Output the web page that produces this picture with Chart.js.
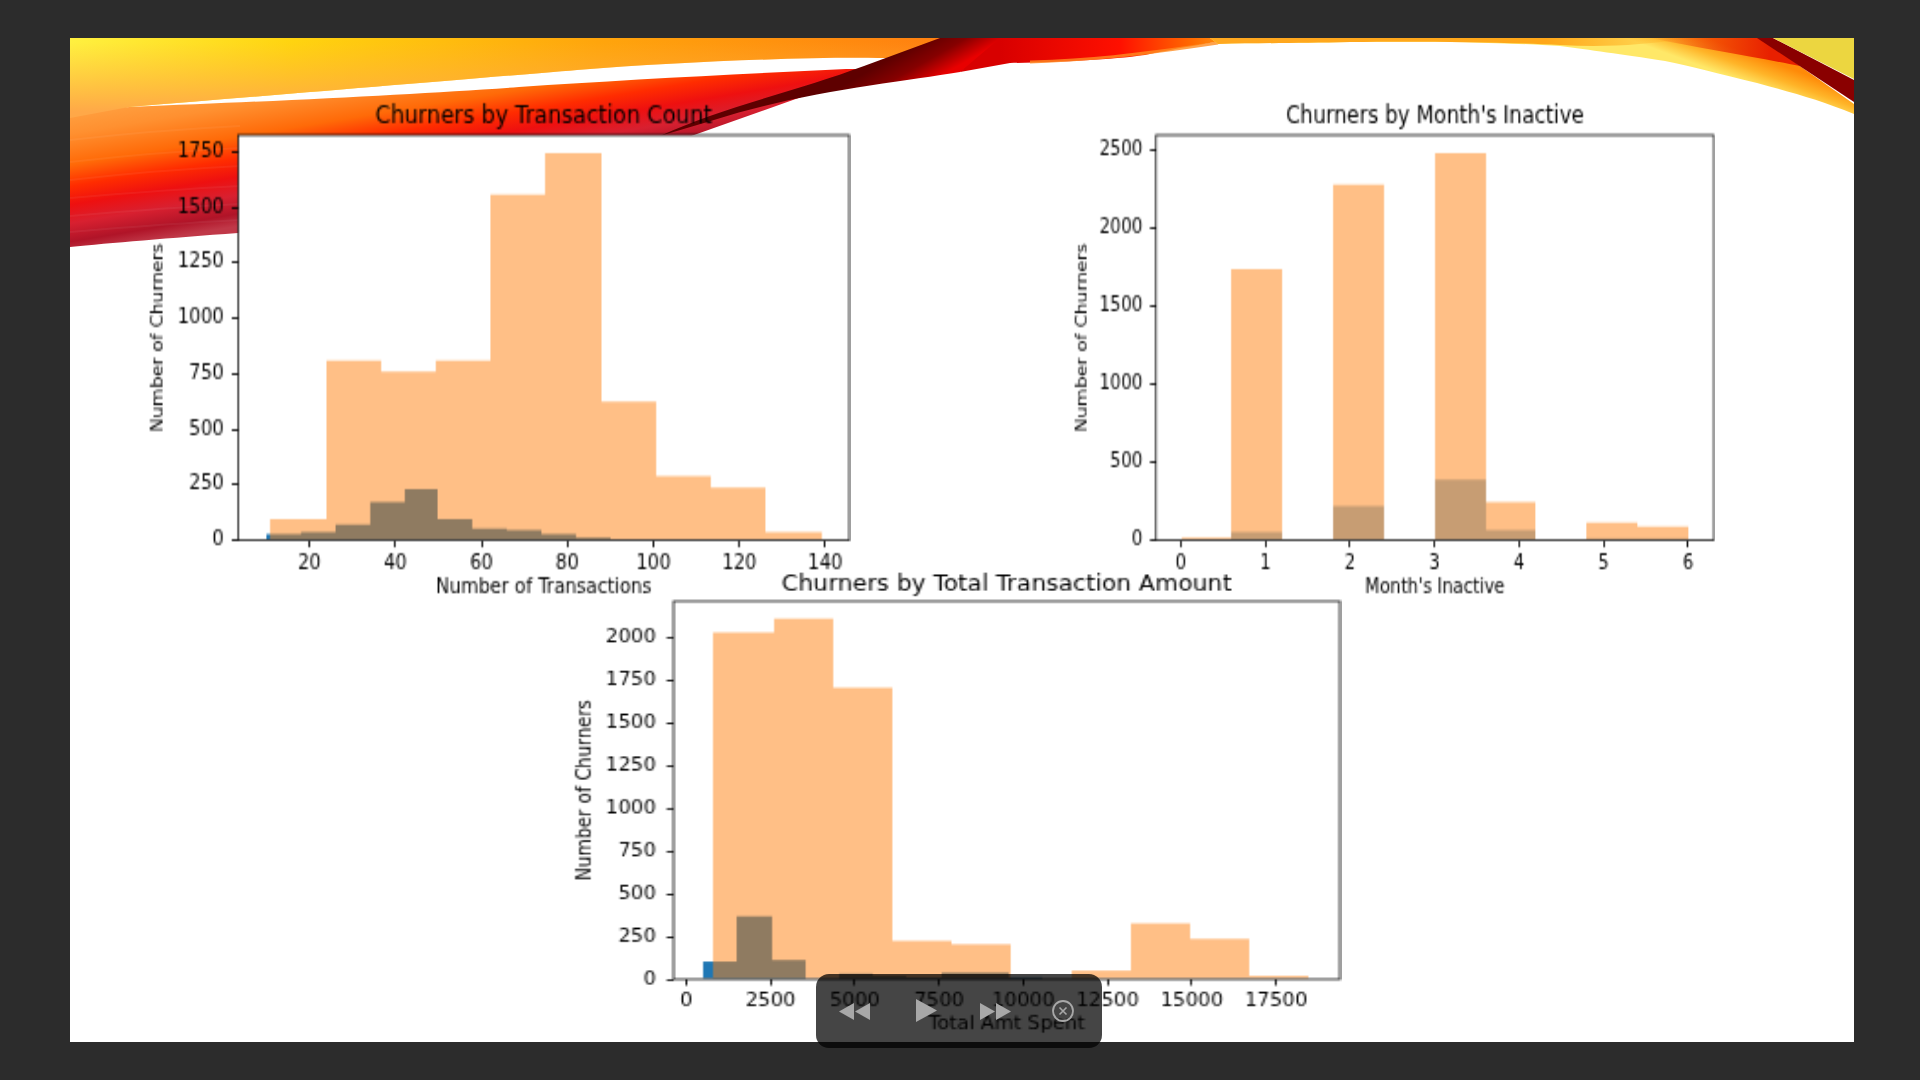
<!DOCTYPE html>
<html>
<head>
<meta charset="utf-8">
<title>Churners</title>
<script src="https://cdn.jsdelivr.net/npm/chart.js@4"></script>
<style>
  html, body { margin: 0; padding: 0; background: #2c2c2c; width: 1920px; height: 1080px; overflow: hidden; }
  #slide { position: absolute; left: 70px; top: 38px; width: 1784px; height: 1004px; background: #fff; }
  #banner { position: absolute; left: 0; top: 0; }
  .plot { position: absolute; transform-origin: 0 0; }
  .plot canvas { display: block; }
  #controls { position: absolute; left: 816px; top: 974px; width: 286px; height: 74px; border-radius: 13px; background: rgba(0, 0, 0, 0.73); }
  #controlIcons { position: absolute; left: 0; top: 0; }
</style>
</head>
<body>
<div id="slide"></div>
<svg id="banner" width="1920" height="1080" viewBox="0 0 1920 1080">
  <defs>
    <linearGradient id="topBand" x1="70" y1="0" x2="950" y2="0" gradientUnits="userSpaceOnUse">
      <stop offset="0" stop-color="#fff040"/>
      <stop offset="0.25" stop-color="#ffd410"/>
      <stop offset="0.6" stop-color="#ffa50c"/>
      <stop offset="1" stop-color="#ff7f10"/>
    </linearGradient>
    <linearGradient id="topShade" x1="0" y1="42" x2="0" y2="112" gradientUnits="userSpaceOnUse">
      <stop offset="0" stop-color="#ffb040" stop-opacity="0"/>
      <stop offset="1" stop-color="#ffa848" stop-opacity="1"/>
    </linearGradient>
    <linearGradient id="lowBand" x1="70" y1="100" x2="95" y2="250" gradientUnits="userSpaceOnUse">
      <stop offset="0" stop-color="#ffa848"/>
      <stop offset="0.22" stop-color="#ff9030"/>
      <stop offset="0.42" stop-color="#ff6a08"/>
      <stop offset="0.56" stop-color="#ff2c00"/>
      <stop offset="0.68" stop-color="#ee1010"/>
      <stop offset="0.8" stop-color="#d82030"/>
      <stop offset="0.92" stop-color="#b01428"/>
      <stop offset="1" stop-color="#c03848"/>
    </linearGradient>
    <linearGradient id="darkSwoosh" x1="905" y1="50" x2="925" y2="85" gradientUnits="userSpaceOnUse">
      <stop offset="0" stop-color="#5e0000"/>
      <stop offset="0.5" stop-color="#860000"/>
      <stop offset="1" stop-color="#e80000"/>
    </linearGradient>
    <linearGradient id="redTail" x1="1000" y1="0" x2="1240" y2="0" gradientUnits="userSpaceOnUse">
      <stop offset="0" stop-color="#d80000"/>
      <stop offset="0.5" stop-color="#ff1000"/>
      <stop offset="0.8" stop-color="#ff6a00"/>
      <stop offset="1" stop-color="#ffa818"/>
    </linearGradient>
    <linearGradient id="rightBand" x1="1700" y1="35" x2="1690" y2="62" gradientUnits="userSpaceOnUse">
      <stop offset="0" stop-color="#ff8a08"/>
      <stop offset="0.5" stop-color="#ffb428"/>
      <stop offset="1" stop-color="#ffe868"/>
    </linearGradient>
    <linearGradient id="rightLeft" x1="1210" y1="0" x2="1690" y2="0" gradientUnits="userSpaceOnUse">
      <stop offset="0" stop-color="#ffa820" stop-opacity="1"/>
      <stop offset="0.7" stop-color="#ffa010" stop-opacity="0.9"/>
      <stop offset="1" stop-color="#ff9a08" stop-opacity="0"/>
    </linearGradient>
    <linearGradient id="rightRed" x1="1650" y1="0" x2="1770" y2="0" gradientUnits="userSpaceOnUse">
      <stop offset="0" stop-color="#e82000" stop-opacity="0"/>
      <stop offset="1" stop-color="#e82000" stop-opacity="1"/>
    </linearGradient>
  </defs>
  <path d="M70 38 H960 V58 H878 C800 57 680 62 577 70 C480 78 300 93 129 107 L70 125 Z" fill="url(#topBand)"/>
  <path d="M70 38 H960 V58 H878 C800 57 680 62 577 70 C480 78 300 93 129 107 L70 125 Z" fill="url(#topShade)"/>
  <path d="M70 118 L129 107 C300 100 420 94 519 87 C620 80 740 74 846 69 L880 69 L680 140 L238 233 C170 238 110 243 70 247 Z" fill="url(#lowBand)"/>
  <g fill="none" stroke="#fff" stroke-opacity="0.05" stroke-width="2">
    <path d="M70 140 C140 132 200 128 240 126"/>
    <path d="M70 162 C140 154 200 150 240 148"/>
    <path d="M70 180 C140 172 200 168 240 166"/>
    <path d="M70 198 C140 192 200 188 240 186"/>
    <path d="M70 216 C140 210 200 206 240 204"/>
    <path d="M70 232 C140 226 200 222 240 220"/>
  </g>
  <path d="M660 136 C720 108 800 90 864 66 L940 38 H1015 L1000 48 L960 72 C900 82 800 92 714 120 Z" fill="url(#darkSwoosh)"/>
  <path d="M1000 38 H1240 C1215 42 1190 46 1145 55 C1110 60 1060 62 1010 63 L960 72 Z" fill="url(#redTail)"/>
  <path d="M1030 62 C1090 60 1130 56 1218 43" fill="none" stroke="#ff8c20" stroke-width="3" stroke-opacity="0.8"/>
  <path d="M1210 38 H1760 L1854 104 V114 C1820 100 1790 92 1757 83 C1720 74 1690 66 1665 61 C1620 54 1590 50 1560 46 C1500 42 1420 41 1350 42 C1300 43 1260 43 1218 44 Z" fill="url(#rightBand)"/>
  <path d="M1210 38 H1690 C1640 46 1600 47 1560 45 C1500 42 1420 41 1350 42 C1300 43 1260 43 1218 44 Z" fill="url(#rightLeft)"/>
  <path d="M1650 38 H1762 L1800 66 C1760 58 1700 48 1650 38 Z" fill="url(#rightRed)"/>
  <path d="M1757 38 H1773 L1854 80 V102 Z" fill="#8a0000"/>
  <path d="M1773 38 H1854 V79 Z" fill="#ecd640"/>
</svg>
<div class="plot" id="plotCount"><canvas id="countChart"></canvas></div>
<div class="plot" id="plotInactive"><canvas id="inactiveChart"></canvas></div>
<div class="plot" id="plotAmount"><canvas id="amountChart"></canvas></div>
<div id="controls"></div>
<svg id="controlIcons" width="1920" height="1080" viewBox="0 0 1920 1080">
  <g fill="#a8a8a8">
    <path d="M854 1003 L839 1011.5 L854 1020 Z"/>
    <path d="M870 1003 L855 1011.5 L870 1020 Z"/>
    <path d="M916 999 L937 1010.5 L916 1022 Z"/>
    <path d="M980 1003 L995 1011.5 L980 1020 Z"/>
    <path d="M996 1003 L1011 1011.5 L996 1020 Z"/>
  </g>
  <ellipse cx="1063" cy="1011" rx="10" ry="10" fill="none" stroke="#a8a8a8" stroke-width="1.8"/>
  <path d="M1059.5 1007.5 L1066.5 1014.5 M1066.5 1007.5 L1059.5 1014.5" stroke="#a8a8a8" stroke-width="1.6"/>
</svg>
<script>
const COLOR_BLUE = "#1f77b4";
const COLOR_BLUE_HALF = "rgba(31, 119, 180, 0.5)";
const COLOR_ORANGE_HALF = "rgba(255, 127, 14, 0.5)";

// bin edges and counts
const countEdgesAll = [11, 23.8, 36.6, 49.4, 62.2, 75, 87.8, 100.6, 113.4, 126.2, 139];
const countValuesAll = [96, 810, 760, 810, 1558, 1745, 625, 290, 238, 38];
const countEdgesChurn = [10, 18, 26, 34, 42, 50, 58, 66, 74, 82, 90];
const countValuesChurn = [27, 36, 71, 171, 231, 96, 53, 45, 27, 12];
const countXTicks = [20, 40, 60, 80, 100, 120, 140];
const countYTicks = [0, 250, 500, 750, 1000, 1250, 1500, 1750];

const inactiveEdges = [0, 0.6, 1.2, 1.8, 2.4, 3, 3.6, 4.2, 4.8, 5.4, 6];
const inactiveValuesAll = [17, 1736, 0, 2275, 0, 2478, 245, 0, 113, 88];
const inactiveValuesChurn = [7, 54, 0, 220, 0, 389, 66, 0, 12, 12];
const inactiveXTicks = [0, 1, 2, 3, 4, 5, 6];
const inactiveYTicks = [0, 500, 1000, 1500, 2000, 2500];

const amountEdgesAll = [816, 2583, 4350, 6116, 7883, 9650, 11417, 13184, 14951, 16717, 18484];
const amountValuesAll = [2035, 2115, 1709, 225, 205, 0, 51, 328, 237, 20];
const amountEdgesChurn = [510, 1517, 2524, 3531, 4538, 5546, 6553, 7560, 8568, 9575, 10583];
const amountValuesChurn = [104, 369, 113, 5, 33, 20, 12, 39, 39, 12];
const amountXTicks = [0, 2500, 5000, 7500, 10000, 12500, 15000, 17500];
const amountYTicks = [0, 250, 500, 750, 1000, 1250, 1500, 1750, 2000];

function toBars(edges, values) {
  return values.map((y, i) => ({ x: (edges[i] + edges[i + 1]) / 2, y }));
}

function fixedTicks(values) {
  return (scale) => {
    scale.ticks = values.map((value) => ({ value }));
  };
}

const plotFrame = {
  id: "plotFrame",
  // snap neighbouring bars to whole pixels, otherwise the half alpha shows seams
  afterDatasetsUpdate(chart) {
    chart.getSortedVisibleDatasetMetas().forEach((meta) => {
      meta.data.forEach((bar) => {
        const left = Math.round(bar.x - bar.width / 2);
        const right = Math.round(bar.x + bar.width / 2);
        bar.x = (left + right) / 2;
        bar.width = right - left;
      });
    });
  },
  beforeDraw(chart) {
    const { ctx, chartArea: a } = chart;
    ctx.save();
    ctx.fillStyle = "#fff";
    ctx.fillRect(a.left, a.top, a.width, a.height);
    ctx.restore();
  },
  afterDraw(chart) {
    const { ctx, chartArea: a } = chart;
    ctx.save();
    ctx.strokeStyle = "#111";
    ctx.lineWidth = 0.8;
    ctx.strokeRect(a.left, a.top, a.width, a.height);
    ctx.restore();
  },
};

function buildHist(cfg) {
  const canvas = document.getElementById(cfg.canvasId);
  const plotW = cfg.frame.w / cfg.sx;
  const plotH = cfg.frame.h / cfg.sy;
  const side = cfg.yTitleGap;
  canvas.width = Math.round(plotW + side + 1);
  canvas.height = Math.round(plotH + cfg.titleBox + cfg.bottom);
  const tickFont = { family: "DejaVu Sans", size: 10 };
  const tickStyle = {
    font: tickFont,
    color: "#000",
    autoSkip: false,
    maxRotation: 0,
    callback: (value) => String(value),
  };
  const gridStyle = { drawOnChartArea: false, drawTicks: true, tickLength: 3.5, tickColor: "#000", tickWidth: 0.9, offset: false };
  const barStyle = { barPercentage: 1, categoryPercentage: 1, borderWidth: 0, inflateAmount: 0, grouped: false };

  const chart = new Chart(canvas, {
    type: "bar",
    data: {
      datasets: [
        { label: "Churned", data: cfg.churnBars, xAxisID: "xChurn", backgroundColor: cfg.churnColor, order: 2, ...barStyle },
        { label: "All", data: cfg.allBars, xAxisID: "x", backgroundColor: COLOR_ORANGE_HALF, order: 1, ...barStyle },
      ],
    },
    options: {
      responsive: false,
      animation: false,
      devicePixelRatio: 1,
      layout: { padding: { right: 1 } },
      plugins: {
        legend: { display: false },
        tooltip: { enabled: false },
        title: {
          display: true,
          fullSize: false,
          text: cfg.title,
          color: "#000",
          font: { family: "DejaVu Sans", size: 12, weight: "normal" },
          padding: { top: cfg.titleBox - 14.4 - cfg.titleGap, bottom: cfg.titleGap },
        },
      },
      scales: {
        x: {
          type: "linear",
          min: cfg.xMin,
          max: cfg.xMax,
          offset: false,
          grid: gridStyle,
          border: { display: false },
          ticks: { ...tickStyle, padding: cfg.xPad },
          afterBuildTicks: fixedTicks(cfg.xTicks),
          title: { display: true, text: cfg.xTitle, color: "#000", font: tickFont, padding: 0 },
          afterFit(scale) { scale.height = cfg.bottom; },
        },
        xChurn: {
          type: "linear",
          display: false,
          min: cfg.xMin,
          max: cfg.xMax,
          offset: false,
          afterBuildTicks: fixedTicks(cfg.xTicks),
        },
        y: {
          min: 0,
          max: cfg.yMax,
          grid: gridStyle,
          border: { display: false },
          ticks: { ...tickStyle, padding: cfg.yPad },
          afterBuildTicks: fixedTicks(cfg.yTicks),
          title: {
            display: true,
            text: "Number of Churners",
            color: "#000",
            font: { family: "DejaVu Sans", size: cfg.yTitleSize },
            padding: 0,
          },
          afterFit(scale) { scale.width = side; },
        },
      },
    },
    plugins: [plotFrame],
  });

  const wrap = document.getElementById(cfg.wrapId);
  const area = chart.chartArea;
  const scaleX = cfg.frame.w / area.width;
  const scaleY = cfg.frame.h / area.height;
  wrap.style.left = `${cfg.frame.x - area.left * scaleX}px`;
  wrap.style.top = `${cfg.frame.y - area.top * scaleY}px`;
  wrap.style.transform = `scale(${scaleX}, ${scaleY})`;
  return chart;
}

buildHist({
  canvasId: "countChart",
  wrapId: "plotCount",
  frame: { x: 238.5, y: 134.7, w: 611, h: 405.3 },
  sx: 1.82,
  sy: 2,
  yTitleGap: 49.5,
  yTitleSize: 9.3,
  titleBox: 22,
  titleGap: 1.6,
  bottom: 29.4,
  xPad: 2.5,
  yPad: 4.4,
  title: "Churners by Transaction Count",
  xTitle: "Number of Transactions",
  xMin: 3.45,
  xMax: 145.55,
  xTicks: countXTicks,
  yMax: 1825.6,
  yTicks: countYTicks,
  churnColor: COLOR_BLUE,
  allBars: toBars(countEdgesAll, countValuesAll),
  churnBars: toBars(countEdgesChurn, countValuesChurn),
});

buildHist({
  canvasId: "inactiveChart",
  wrapId: "plotInactive",
  frame: { x: 1156, y: 134.7, w: 557.8, h: 405.3 },
  sx: 1.7,
  sy: 2,
  yTitleGap: 48.8,
  yTitleSize: 9.3,
  titleBox: 22,
  titleGap: 1.6,
  bottom: 29.4,
  xPad: 2.5,
  yPad: 4.4,
  title: "Churners by Month's Inactive",
  xTitle: "Month's Inactive",
  xMin: -0.296,
  xMax: 6.304,
  xTicks: inactiveXTicks,
  yMax: 2593,
  yTicks: inactiveYTicks,
  churnColor: COLOR_BLUE_HALF,
  allBars: toBars(inactiveEdges, inactiveValuesAll),
  churnBars: toBars(inactiveEdges, inactiveValuesChurn),
});

buildHist({
  canvasId: "amountChart",
  wrapId: "plotAmount",
  frame: { x: 673.3, y: 601.3, w: 666.3, h: 378 },
  sx: 1.97,
  sy: 1.78,
  yTitleGap: 51,
  yTitleSize: 10,
  titleBox: 22,
  titleGap: 2,
  bottom: 31,
  xPad: 3,
  yPad: 5.5,
  title: "Churners by Total Transaction Amount",
  xTitle: "Total Amt Spent",
  xMin: -377,
  xMax: 19394,
  xTicks: amountXTicks,
  yMax: 2217,
  yTicks: amountYTicks,
  churnColor: COLOR_BLUE,
  allBars: toBars(amountEdgesAll, amountValuesAll),
  churnBars: toBars(amountEdgesChurn, amountValuesChurn),
});
</script>
</body>
</html>
